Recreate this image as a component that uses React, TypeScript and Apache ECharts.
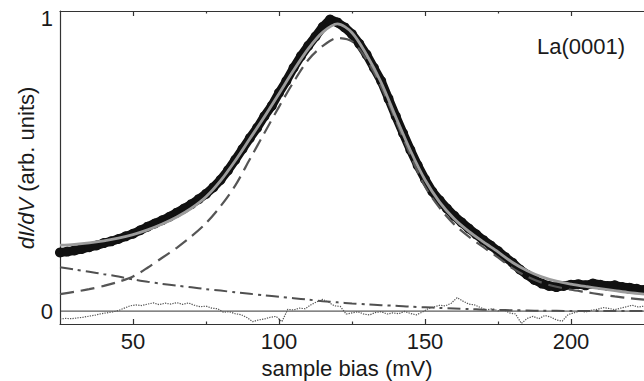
import React, { useEffect, useRef } from "react";
import * as echarts from "echarts";

// Fit curves, sampled every 5 mV
const fitBias = [25, 30, 35, 40, 45, 50, 55, 60, 65, 70, 75, 80, 85, 90, 95, 100, 105, 110, 115, 120, 125, 130, 135, 140, 145, 150, 155, 160, 165, 170, 175, 180, 185, 190, 195, 200, 205, 210, 215, 220, 225];
const fitTotal = [0.225, 0.228, 0.233, 0.240, 0.249, 0.261, 0.277, 0.297, 0.321, 0.351, 0.390, 0.445, 0.513, 0.588, 0.663, 0.742, 0.822, 0.895, 0.952, 0.980, 0.950, 0.875, 0.780, 0.662, 0.548, 0.448, 0.372, 0.315, 0.272, 0.236, 0.202, 0.166, 0.138, 0.117, 0.102, 0.092, 0.084, 0.077, 0.070, 0.063, 0.058];
const fitPeak = [0.058, 0.066, 0.075, 0.086, 0.100, 0.118, 0.148, 0.182, 0.216, 0.255, 0.300, 0.358, 0.428, 0.518, 0.608, 0.697, 0.782, 0.857, 0.905, 0.932, 0.920, 0.858, 0.765, 0.650, 0.532, 0.425, 0.352, 0.296, 0.254, 0.218, 0.183, 0.146, 0.118, 0.097, 0.083, 0.073, 0.065, 0.057, 0.050, 0.044, 0.039];
const fitBackground = [0.150, 0.142, 0.134, 0.126, 0.118, 0.108, 0.100, 0.093, 0.087, 0.081, 0.075, 0.070, 0.064, 0.059, 0.054, 0.049, 0.044, 0.039, 0.034, 0.030, 0.026, 0.023, 0.020, 0.018, 0.015, 0.013, 0.011, 0.009, 0.007, 0.005, 0.004, 0.003, 0.002, 0.001, 0.001, 0.000, 0.000, 0.000, 0.000, 0.000, 0.000];

// Measured dI/dV, every 2.5 mV
const measuredBias = [25, 27.5, 30, 32.5, 35, 37.5, 40, 42.5, 45, 47.5, 50, 52.5, 55, 57.5, 60, 62.5, 65, 67.5, 70, 72.5, 75, 77.5, 80, 82.5, 85, 87.5, 90, 92.5, 95, 97.5, 100, 102.5, 105, 107.5, 110, 112.5, 115, 117.5, 120, 122.5, 125, 127.5, 130, 132.5, 135, 137.5, 140, 142.5, 145, 147.5, 150, 152.5, 155, 157.5, 160, 162.5, 165, 167.5, 170, 172.5, 175, 177.5, 180, 182.5, 185, 187.5, 190, 192.5, 195, 197.5, 200, 202.5, 205, 207.5, 210, 212.5, 215, 217.5, 220, 222.5, 225];
const measuredDIdV = [0.200, 0.203, 0.207, 0.212, 0.218, 0.224, 0.232, 0.238, 0.246, 0.255, 0.264, 0.276, 0.288, 0.299, 0.310, 0.322, 0.336, 0.350, 0.365, 0.382, 0.400, 0.422, 0.448, 0.480, 0.516, 0.553, 0.590, 0.625, 0.665, 0.700, 0.745, 0.785, 0.830, 0.870, 0.905, 0.937, 0.970, 0.995, 0.985, 0.968, 0.945, 0.912, 0.875, 0.830, 0.785, 0.725, 0.665, 0.607, 0.550, 0.497, 0.450, 0.408, 0.378, 0.350, 0.325, 0.303, 0.282, 0.262, 0.242, 0.224, 0.205, 0.184, 0.165, 0.142, 0.124, 0.106, 0.094, 0.086, 0.082, 0.086, 0.090, 0.092, 0.088, 0.094, 0.090, 0.086, 0.088, 0.082, 0.080, 0.076, 0.072];

// Residual (data - fit), every 2 mV
const residualBias = [25, 27, 29, 31, 33, 35, 37, 39, 41, 43, 45, 47, 49, 51, 53, 55, 57, 59, 61, 63, 65, 67, 69, 71, 73, 75, 77, 79, 81, 83, 85, 87, 89, 91, 93, 95, 97, 99, 101, 103, 105, 107, 109, 111, 113, 115, 117, 119, 121, 123, 125, 127, 129, 131, 133, 135, 137, 139, 141, 143, 145, 147, 149, 151, 153, 155, 157, 159, 161, 163, 165, 167, 169, 171, 173, 175, 177, 179, 181, 183, 185, 187, 189, 191, 193, 195, 197, 199, 201, 203, 205, 207, 209, 211, 213, 215, 217, 219, 221, 223, 225];
const residualValues = [-0.027, -0.025, -0.026, -0.023, -0.021, -0.017, -0.014, -0.009, -0.006, -0.003, 0.002, 0.010, 0.018, 0.021, 0.019, 0.024, 0.028, 0.022, 0.027, 0.024, 0.029, 0.023, 0.028, 0.020, 0.015, 0.017, 0.010, 0.008, -0.004, -0.002, -0.009, -0.012, -0.022, -0.036, -0.030, -0.027, -0.021, -0.018, -0.036, 0.006, 0.004, 0.010, 0.008, 0.022, 0.032, 0.040, 0.030, 0.018, 0.016, -0.010, -0.006, -0.002, -0.010, -0.013, -0.005, -0.002, -0.010, -0.006, -0.009, -0.001, -0.008, -0.013, -0.004, 0.008, 0.014, 0.020, 0.018, 0.027, 0.046, 0.034, 0.024, 0.021, 0.012, 0.004, 0.008, 0.001, 0.004, -0.006, -0.010, -0.042, -0.025, -0.018, -0.026, -0.015, -0.020, -0.030, -0.034, -0.012, -0.006, 0.000, -0.003, 0.003, 0.006, 0.012, 0.009, 0.005, 0.010, 0.015, 0.020, 0.014, 0.017];

const zeroLineBias = [25, 225];
const zeroLineValues = [0, 0];

const xTickLabels = [50, 100, 150, 200];
const xMinorTicks = [75, 125, 175];
const yTickLabels = [0, 1];

const zip = (xs: number[], ys: number[]) => xs.map((x, i) => [x, ys[i]]);

export default function App() {
  const ref = useRef<HTMLDivElement>(null);
  useEffect(() => {
    if (!ref.current) return;
    const chart = echarts.init(ref.current, null, { renderer: "svg" });
    const font = "'Liberation Sans', Arial, Helvetica, sans-serif";
    const axisColor = "#333";
    const textColor = "#1a1a1a";
    const baseX = { type: "value", min: 25, max: 225, splitLine: { show: false } };
    const tickStyle = { color: axisColor, width: 1.2 };
    chart.setOption({
      animation: false,
      grid: { left: 60, top: 11, width: 586, height: 313, containLabel: false },
      xAxis: [
        {
          ...baseX,
          position: "bottom",
          axisLine: { show: true, onZero: false, lineStyle: { color: axisColor, width: 1.2 } },
          axisTick: { show: true, inside: true, length: 5, customValues: xTickLabels, lineStyle: tickStyle },
          axisLabel: { show: true, customValues: xTickLabels, margin: 6, fontSize: 22, color: textColor, fontFamily: font },
        },
        {
          ...baseX,
          position: "bottom",
          axisLine: { show: false, onZero: false },
          axisTick: { show: true, inside: true, length: 2.5, customValues: xMinorTicks, lineStyle: tickStyle },
          axisLabel: { show: false },
        },
        {
          ...baseX,
          position: "top",
          axisLine: { show: true, onZero: false, lineStyle: { color: axisColor, width: 1.2 } },
          axisTick: { show: true, inside: true, length: 5, customValues: xTickLabels, lineStyle: tickStyle },
          axisLabel: { show: false },
        },
        {
          ...baseX,
          position: "top",
          axisLine: { show: false, onZero: false },
          axisTick: { show: true, inside: true, length: 2.5, customValues: xMinorTicks, lineStyle: tickStyle },
          axisLabel: { show: false },
        },
      ],
      yAxis: {
        type: "value",
        min: -0.044,
        max: 1.024,
        axisLine: { show: true, lineStyle: { color: axisColor, width: 1.2 } },
        axisTick: { show: false },
        axisLabel: { show: true, customValues: yTickLabels, margin: 7, fontSize: 22, color: textColor, fontFamily: font },
        splitLine: { show: false },
      },
      graphic: [
        {
          type: "text",
          x: 26,
          y: 168,
          rotation: Math.PI / 2,
          style: {
            text: "{i|dI/dV} (arb. units)",
            rich: { i: { fontStyle: "italic", fontSize: 22, fontFamily: font, fill: textColor } },
            fontSize: 22,
            fontFamily: font,
            fill: textColor,
            align: "center",
            verticalAlign: "middle",
          },
        },
        {
          type: "text",
          x: 347,
          y: 368,
          style: { text: "sample bias (mV)", fontSize: 22, fontFamily: font, fill: textColor, align: "center", verticalAlign: "middle" },
        },
        {
          type: "text",
          x: 581,
          y: 46,
          style: { text: "La(0001)", fontSize: 22, fontFamily: font, fill: textColor, align: "center", verticalAlign: "middle" },
        },
      ],
      series: [
        {
          name: "zero",
          type: "line",
          data: zip(zeroLineBias, zeroLineValues),
          symbol: "none",
          silent: true,
          lineStyle: { color: "#333", width: 1 },
          z: 1,
        },
        {
          name: "residual",
          type: "line",
          data: zip(residualBias, residualValues),
          symbol: "none",
          silent: true,
          lineStyle: { color: "#555", width: 1.2, type: [1.3, 1.2] },
          z: 2,
        },
        {
          name: "measured",
          type: "line",
          data: zip(measuredBias, measuredDIdV),
          symbol: "circle",
          symbolSize: 10,
          showSymbol: true,
          showAllSymbol: true,
          silent: true,
          itemStyle: { color: "#111" },
          lineStyle: { color: "#111", width: 9, cap: "round", join: "round" },
          z: 3,
        },
        {
          name: "background",
          type: "line",
          data: zip(fitBias, fitBackground),
          symbol: "none",
          smooth: 0.3,
          silent: true,
          lineStyle: { color: "#505050", width: 2, type: [13, 5, 3, 5] },
          z: 4,
        },
        {
          name: "peak",
          type: "line",
          data: zip(fitBias, fitPeak),
          symbol: "none",
          smooth: 0.3,
          silent: true,
          lineStyle: { color: "#555", width: 2.2, type: [14, 7] },
          z: 5,
        },
        {
          name: "fit",
          type: "line",
          data: zip(fitBias, fitTotal),
          symbol: "none",
          smooth: 0.3,
          silent: true,
          lineStyle: { color: "#9c9c9c", width: 2.8 },
          z: 6,
        },
      ],
    });
    return () => chart.dispose();
  }, []);
  return <div ref={ref} style={{ width: 644, height: 381, position: "absolute", left: 0, top: 0 }} />;
}
